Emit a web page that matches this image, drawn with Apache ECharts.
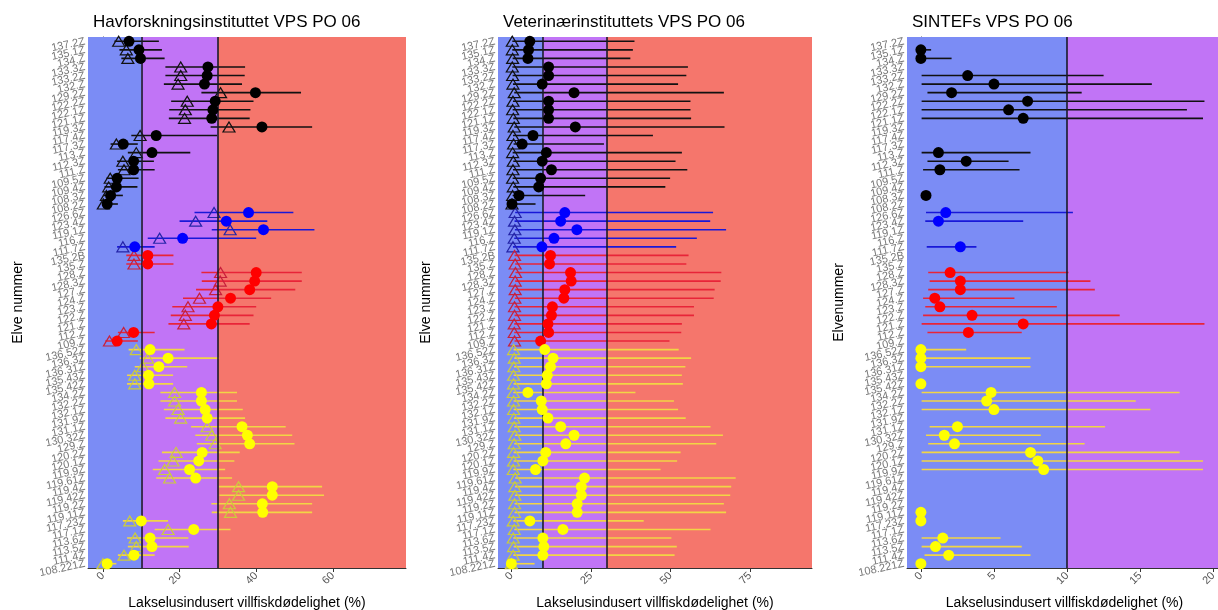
<!DOCTYPE html>
<html>
<head>
<meta charset="utf-8">
<script src="https://cdn.jsdelivr.net/npm/echarts@6/dist/echarts.min.js"></script>
<style>
  html, body { margin: 0; padding: 0; background: #fff; overflow: hidden; }
  #main { width: 1240px; height: 610px; }
</style>
</head>
<body>
<div id="main"></div>
<script>
// rows top -> bottom
const categories = [
  "137.2Z", "135.1Z", "134.Z", "133.3Z", "133.2Z", "132.Z", "129.2Z", "122.2Z", "122.1Z", "121.1Z",
  "119.3Z", "117.4Z", "117.3Z", "113.Z", "112.3Z", "111.Z", "109.5Z", "109.4Z", "108.3Z", "108.2Z",
  "126.6Z", "123.4Z", "119.1Z", "116.Z", "111.7Z",
  "135.2B", "135.Z", "128.Z", "128.3Z", "127.Z", "124.Z", "123.Z", "122.Z", "121.Z", "112.Z", "109.Z",
  "136.52Z", "136.3Z", "136.31Z", "135.43Z", "135.42Z", "134.2Z", "132.2Z", "132.1Z", "131.9Z", "131.1Z",
  "130.32Z", "129.Z", "120.2Z", "120.1Z", "119.9Z", "119.61Z", "119.4Z", "119.42Z", "119.2Z", "119.11Z",
  "117.23Z", "117.1Z", "113.6Z", "113.5Z", "111.4Z", "108.221Z"
];
// rows per colour group: black, blue, red, yellow
const groupCounts = [20, 5, 11, 26];

// Havforskningsinstituttet
const havTri = [4.1, 6.1, 6.5, 20.3, 20.3, 19.6, 30.7, 22.0, 21.5, 21.3,
  32.9, 9.7, 3.5, 8.7, 5.2, 5.5, 1.9, 1.5, 0.9, 0.1,
  29.0, 24.2, 33.2, 14.8, 5.2,
  8.1, 8.1, 30.7, 30.6, 29.4, 25.2, 22.2, 21.5, 21.1, 5.4, 1.7,
  8.7, 11.7, 10.4, 8.3, 8.3, 18.7, 18.7, 19.6, 20.3, 27.2,
  28.4, 29.3, 19.1, 18.3, 16.1, 17.4, 35.4, 35.4, 33.0, 33.3,
  7.0, 17.0, 8.4, 8.7, 5.5, 0.0];
const havDot = [6.8, 9.4, 9.8, 27.4, 27.2, 26.5, 39.8, 29.3, 28.7, 28.4,
  41.5, 13.9, 5.3, 12.8, 8.0, 8.0, 3.7, 3.5, 2.0, 1.1,
  38.0, 32.2, 41.9, 20.8, 8.3,
  11.7, 11.7, 40.0, 39.6, 38.3, 33.3, 30.0, 29.1, 28.3, 8.0, 3.7,
  12.3, 17.0, 14.6, 11.9, 12.0, 25.7, 25.7, 26.7, 27.2, 36.3,
  37.7, 38.3, 25.9, 25.0, 22.6, 24.2, 44.2, 44.2, 41.6, 41.7,
  10.0, 23.7, 12.3, 12.8, 8.1, 1.1];
const havLo = [3.0, 4.3, 4.8, 16.3, 16.3, 15.9, 25.7, 17.8, 17.3, 17.2,
  28.1, 7.4, 2.0, 6.5, 3.7, 3.9, 0.9, 0.4, 0.0, 0.0,
  23.9, 20.0, 28.4, 11.7, 3.7,
  6.1, 6.1, 25.7, 25.8, 24.3, 20.9, 18.1, 17.7, 17.1, 3.9, 0.6,
  6.7, 9.6, 8.3, 6.3, 6.3, 15.0, 15.0, 15.9, 16.3, 23.0,
  24.1, 24.5, 15.4, 14.5, 13.0, 13.9, 30.3, 30.4, 28.3, 28.4,
  5.2, 13.5, 6.3, 6.5, 3.9, 0.0];
const havHi = [14.6, 15.4, 16.1, 37.1, 37.0, 36.3, 51.7, 39.3, 38.5, 38.3,
  54.6, 29.8, 9.1, 22.8, 13.3, 13.5, 9.3, 9.0, 5.2, 3.9,
  49.7, 42.9, 55.2, 40.0, 13.5,
  18.4, 18.4, 51.9, 51.9, 50.2, 43.9, 40.0, 39.3, 38.3, 13.5, 9.1,
  21.3, 30.3, 22.0, 18.3, 18.3, 35.0, 35.0, 36.5, 37.1, 47.7,
  49.4, 50.0, 35.7, 34.3, 31.9, 33.7, 57.2, 57.7, 54.6, 54.6,
  17.0, 33.3, 22.3, 22.4, 13.5, 3.5];

// Veterinærinstituttet
const vetTri = [0.3, 0.3, 0.4, 0.3, 0.4, 0.5, 0.9, 0.5, 0.4, 0.6,
  0.9, 0.5, 0.7, 0.4, 0.6, 0.5, 0.4, 0.6, 0.4, 0.2,
  1.2, 1.0, 1.1, 0.9, 0.5,
  1.0, 1.2, 1.3, 1.2, 1.2, 1.1, 1.0, 1.0, 0.9, 0.9, 1.0,
  0.7, 0.9, 0.8, 0.7, 0.7, 0.6, 0.7, 0.7, 0.8, 0.9,
  1.1, 0.9, 0.7, 0.7, 0.6, 1.2, 1.1, 1.1, 1.0, 1.0,
  0.6, 0.9, 0.6, 0.7, 0.6, 0.0];
const vetDot = [5.8, 5.4, 5.2, 11.7, 11.7, 9.7, 19.7, 11.7, 11.7, 11.7,
  20.1, 6.8, 3.4, 11.0, 9.7, 12.6, 9.2, 8.6, 2.4, 0.2,
  16.8, 15.5, 20.6, 13.4, 9.6,
  12.3, 12.0, 18.6, 18.8, 16.8, 16.5, 12.9, 12.6, 11.5, 11.7, 9.2,
  10.5, 13.1, 12.3, 11.3, 11.0, 5.2, 9.4, 9.7, 11.5, 15.5,
  19.7, 17.1, 10.8, 9.9, 7.6, 23.0, 22.0, 22.0, 20.7, 20.7,
  5.8, 16.2, 9.9, 10.2, 9.9, 0.0];
const vetHi = [38.7, 38.2, 37.4, 55.5, 55.0, 52.4, 66.8, 56.3, 56.3, 56.5,
  67.0, 44.5, 29.1, 53.6, 51.6, 55.3, 49.9, 48.4, 23.2, 7.6,
  63.4, 62.5, 67.5, 58.3, 51.8,
  55.7, 55.0, 66.0, 65.8, 63.9, 63.6, 57.4, 57.4, 53.6, 53.4, 49.7,
  52.6, 56.5, 54.7, 53.6, 53.9, 39.0, 51.1, 52.4, 54.8, 62.6,
  66.5, 64.4, 53.2, 52.1, 46.9, 70.5, 69.1, 68.8, 66.8, 67.5,
  41.6, 62.6, 50.3, 52.0, 51.3, 7.3];

// SINTEF (null = no estimate)
const sinDot = [null, 0.0, 0.0, null, 3.2, 5.0, 2.1, 7.3, 6.0, 7.0,
  null, null, null, 1.2, 3.1, 1.3, null, null, 0.35, null,
  1.7, 1.2, null, null, 2.7,
  null, null, 2.0, 2.7, 2.7, 0.95, 1.3, 3.5, 7.0, 3.25, null,
  0.0, 0.0, 0.0, null, 0.0, 4.8, 4.5, 5.0, null, 2.5,
  1.6, 2.3, 7.5, 8.0, 8.4, null, null, null, null, 0.0,
  0.0, null, 1.5, 1.0, 1.9, 0.0];
const sinLo = [null, 0.0, 0.0, null, 0.05, 0.05, 0.45, 0.05, 0.05, 0.05,
  null, null, null, 0.05, 0.45, 0.15, null, null, null, null,
  0.35, 0.3, null, null, 0.4,
  null, null, 0.5, 0.6, 0.5, 0.15, 0.3, 0.15, 0.05, 0.45, null,
  0.0, 0.0, 0.0, null, 0.0, 0.05, 0.05, 0.05, null, 0.6,
  0.35, 0.5, 0.05, 0.05, 0.05, null, null, null, null, null,
  null, null, 0.05, 0.05, 0.25, null];
const sinHi = [null, 0.7, 2.1, null, 12.5, 15.8, 11.0, 19.4, 18.2, 19.3,
  null, null, null, 7.5, 6.0, 6.75, null, null, null, null,
  10.4, 7.0, null, null, 3.8,
  null, null, 10.1, 11.6, 11.9, 6.4, 9.3, 13.6, 19.4, 6.9, null,
  3.1, 7.5, 7.5, null, 0.3, 17.7, 14.7, 15.7, null, 12.6,
  8.2, 11.2, 17.7, 19.3, 19.3, null, null, null, null, null,
  null, null, 5.45, 6.9, 7.5, null];

const havTicks = [0, 20, 40, 60];
const vetTicks = [0, 25, 50, 75];
const sinTicks = [0, 5, 10, 15, 20];

const titles = ["Havforskningsinstituttet VPS PO 06", "Veterinærinstituttets VPS PO 06", "SINTEFs VPS PO 06"];
const yNames = ["Elve nummer", "Elve nummer", "Elvenummer"];
const xName = "Lakselusindusert villfiskdødelighet (%)";

const dotColors = ["#000000", "#0000ff", "#ff0000", "#ffff00"];
const lineColors = ["#111111", "#1818d8", "#e82438", "#f2d545"];
const triColors = ["#111111", "#2424a8", "#c8203c", "#cccc3c"];

const rowGroup = [];
groupCounts.forEach((n, g) => { for (let i = 0; i < n; i++) rowGroup.push(g); });

const font = "Liberation Sans, Arial, sans-serif";
const panels = [
  { left: 88, width: 318, min: -3.9, max: 79.1, ticks: havTicks, tri: havTri, dot: havDot, lo: havLo, hi: havHi, yGap: 63 },
  { left: 498, width: 314, min: -4.2, max: 94.5, ticks: vetTicks, tri: vetTri, dot: vetDot, lo: vetTri, hi: vetHi, yGap: 65 },
  { left: 907, width: 315, min: -0.95, max: 20.6, ticks: sinTicks, tri: null, dot: sinDot, lo: sinLo, hi: sinHi, yGap: 61 }
];

const grid = [], xAxis = [], yAxis = [], series = [], title = [];

panels.forEach((p, k) => {
  grid.push({ left: p.left, top: 37, width: p.width, height: 531, outerBoundsMode: "none", containLabel: false });
  title.push({ text: titles[k], left: p.left, top: 9, textStyle: { fontFamily: font, fontSize: 17, fontWeight: "normal", color: "#000" } });
  xAxis.push({
    type: "value", gridIndex: k, min: p.min, max: p.max,
    name: xName, nameLocation: "middle", nameGap: 28,
    nameTextStyle: { fontFamily: font, fontSize: 14, color: "#000" },
    axisLine: { show: true, lineStyle: { color: "#333" } },
    axisTick: { show: true, customValues: p.ticks, length: 4, lineStyle: { color: "#333" } },
    axisLabel: { customValues: p.ticks, rotate: 45, fontFamily: font, fontSize: 11, color: "#555", margin: 6 },
    splitLine: { show: false }
  });
  yAxis.push({
    type: "category", gridIndex: k, data: categories, inverse: true,
    name: yNames[k], nameLocation: "middle", nameGap: p.yGap,
    nameTextStyle: { fontFamily: font, fontSize: 14, color: "#000" },
    axisLine: { show: true, lineStyle: { color: "#333" } },
    axisTick: { show: true, length: 3, interval: 0, alignWithLabel: true, lineStyle: { color: "#333" } },
    axisLabel: { interval: 0, rotate: 12, fontFamily: font, fontSize: 11, color: "#777", margin: 3 },
    splitLine: { show: false }
  });

  // coloured zones and reference lines
  const zones = [
    [{ xAxis: p.min, itemStyle: { color: "#7b8cf5" } }, { xAxis: 10 }],
    [{ xAxis: 10, itemStyle: { color: "#c174f6" } }, { xAxis: Math.min(30, p.max) }]
  ];
  if (p.max > 30) zones.push([{ xAxis: 30, itemStyle: { color: "#f5766c" } }, { xAxis: p.max }]);
  const refs = [{ xAxis: 10 }];
  if (p.max > 30) refs.push({ xAxis: 30 });
  series.push({
    type: "scatter", xAxisIndex: k, yAxisIndex: k, data: [], z: 1, silent: true,
    markArea: { silent: true, itemStyle: { opacity: 1 }, data: zones },
    markLine: { silent: true, symbol: "none", label: { show: false },
      lineStyle: { color: "#1a1a2a", width: 1.6, type: "solid" }, data: refs }
  });

  // intervals
  const bars = [];
  categories.forEach((c, i) => {
    if (p.lo[i] != null && p.hi[i] != null) bars.push([p.lo[i], i, p.hi[i], rowGroup[i]]);
  });
  series.push({
    type: "custom", xAxisIndex: k, yAxisIndex: k, z: 3, silent: true,
    data: bars, encode: { x: [0, 2], y: 1 },
    renderItem: (params, api) => {
      const a = api.coord([api.value(0), api.value(1)]);
      const b = api.coord([api.value(2), api.value(1)]);
      return { type: "line", shape: { x1: a[0], y1: a[1], x2: b[0], y2: b[1] },
        style: { stroke: lineColors[api.value(3)], lineWidth: 1.6 } };
    }
  });

  if (p.tri) {
    series.push({
      type: "scatter", xAxisIndex: k, yAxisIndex: k, z: 4, silent: true,
      symbol: "triangle", symbolSize: [12, 10],
      data: categories.map((c, i) => ({ value: [p.tri[i], i],
        itemStyle: { color: "rgba(0,0,0,0)", opacity: 1, borderColor: triColors[rowGroup[i]], borderWidth: 1.2 } }))
    });
  }

  const dots = [];
  categories.forEach((c, i) => {
    if (p.dot[i] != null) dots.push({ value: [p.dot[i], i], itemStyle: { color: dotColors[rowGroup[i]], opacity: 1 } });
  });
  series.push({
    type: "scatter", xAxisIndex: k, yAxisIndex: k, z: 5, silent: true,
    symbol: "circle", symbolSize: 11, data: dots
  });
});

const chart = echarts.init(document.getElementById("main"));
chart.setOption({ animation: false, backgroundColor: "#fff", title, grid, xAxis, yAxis, series });
</script>
</body>
</html>
